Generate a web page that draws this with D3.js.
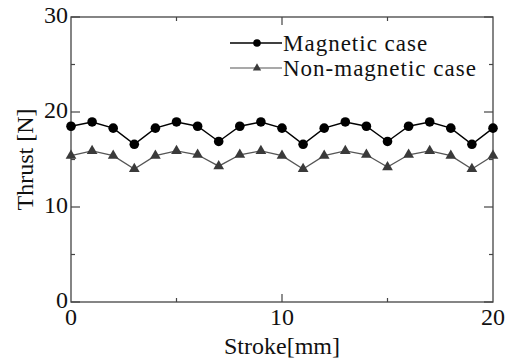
<!DOCTYPE html>
<html>
<head>
<meta charset="utf-8">
<script src="https://cdn.jsdelivr.net/npm/d3@7"></script>
<style>
  body { margin: 0; background: #fff; }
</style>
</head>
<body>
<svg class="chart"></svg>
<script>
var stroke = [0, 1, 2, 3, 4, 5, 6, 7, 8, 9, 10, 11, 12, 13, 14, 15, 16, 17, 18, 19, 20];
var magnetic = [18.5, 18.95, 18.3, 16.6, 18.3, 18.95, 18.5, 16.9, 18.5, 18.95, 18.3, 16.6, 18.3, 18.95, 18.5, 16.9, 18.5, 18.95, 18.3, 16.6, 18.3];
var nonMagnetic = [15.4, 15.9, 15.4, 14.0, 15.4, 15.9, 15.5, 14.3, 15.5, 15.9, 15.4, 14.0, 15.4, 15.9, 15.5, 14.2, 15.5, 15.9, 15.4, 14.0, 15.4];
var xTicks = [0, 10, 20];
var xMinor = [5, 15];
var yTicks = [0, 10, 20, 30];
var yMinor = [5, 15, 25];
var seriesNames = ["Magnetic case", "Non-magnetic case"];

var font = "'Liberation Serif', 'Times New Roman', Times, serif";

var margin = {top: 17, right: 18, bottom: 60, left: 71},
    W = 511, H = 362,
    width = W - margin.left - margin.right,
    height = H - margin.top - margin.bottom;

var svg = d3.select(".chart").attr("width", W).attr("height", H);
var chart = svg.append("g")
    .attr("transform", "translate(" + margin.left + "," + margin.top + ")");

var x = d3.scaleLinear().domain([0, 20]).range([0, width]);
var y = d3.scaleLinear().domain([0, 30]).range([height, 0]);

var axisColor = "#444";

// frame
chart.append("rect")
    .attr("width", width).attr("height", height)
    .attr("fill", "none").attr("stroke", axisColor).attr("stroke-width", 1.3);

// ticks, inward on all four sides (major 9px, minor 4px)
function ticksY(g, dir) {
  g.selectAll("line.maj").data(yTicks).enter().append("line").attr("class", "maj")
    .attr("x1", 0).attr("x2", 9 * dir).attr("y1", y).attr("y2", y)
    .attr("stroke", axisColor).attr("stroke-width", 1.2);
  g.selectAll("line.min").data(yMinor).enter().append("line").attr("class", "min")
    .attr("x1", 0).attr("x2", 4 * dir).attr("y1", y).attr("y2", y)
    .attr("stroke", axisColor).attr("stroke-width", 1.2);
}
ticksY(chart.append("g"), 1);
ticksY(chart.append("g").attr("transform", "translate(" + width + ",0)"), -1);

function ticksX(g, dir) {
  g.selectAll("line.maj").data([10]).enter().append("line").attr("class", "maj")
    .attr("x1", x).attr("x2", x).attr("y1", 0).attr("y2", 8 * dir)
    .attr("stroke", axisColor).attr("stroke-width", 1.2);
  g.selectAll("line.min").data(xMinor).enter().append("line").attr("class", "min")
    .attr("x1", x).attr("x2", x).attr("y1", 0).attr("y2", 4 * dir)
    .attr("stroke", axisColor).attr("stroke-width", 1.2);
}
ticksX(chart.append("g").attr("transform", "translate(0," + height + ")"), -1);
ticksX(chart.append("g"), 1);

// tick labels
chart.selectAll(".ylab").data(yTicks).enter().append("text")
    .attr("x", -3).attr("y", function(d) { return y(d) + 6; })
    .attr("text-anchor", "end")
    .attr("font-family", font).attr("font-size", 24).attr("fill", "#111")
    .text(function(d) { return d; });
chart.selectAll(".xlab").data(xTicks).enter().append("text")
    .attr("x", x).attr("y", height + 23)
    .attr("text-anchor", "middle")
    .attr("font-family", font).attr("font-size", 24).attr("fill", "#111")
    .text(function(d) { return d; });

// axis titles
chart.append("text")
    .attr("x", width / 2).attr("y", height + 52)
    .attr("text-anchor", "middle")
    .attr("font-family", font).attr("font-size", 24).attr("fill", "#111")
    .text("Stroke[mm]");
chart.append("text")
    .attr("transform", "translate(" + (33 - margin.left) + "," + (height / 2) + ") rotate(-90)")
    .attr("text-anchor", "middle")
    .attr("font-family", font).attr("font-size", 24).attr("fill", "#111")
    .text("Thrust [N]");

// series
var line = d3.line()
    .x(function(d, i) { return x(stroke[i]); })
    .y(function(d) { return y(d); });

chart.append("path").datum(nonMagnetic)
    .attr("d", line).attr("fill", "none")
    .attr("stroke", "#555").attr("stroke-width", 1.3);
chart.append("path").datum(magnetic)
    .attr("d", line).attr("fill", "none")
    .attr("stroke", "#000").attr("stroke-width", 1.4);

var tri = d3.symbol().type(d3.symbolTriangle).size(50);
chart.selectAll(".tri").data(nonMagnetic).enter().append("path")
    .attr("d", tri)
    .attr("transform", function(d, i) { return "translate(" + x(stroke[i]) + "," + y(d) + ")"; })
    .attr("fill", "#3a3a3a");
chart.selectAll(".dot").data(magnetic).enter().append("circle")
    .attr("cx", function(d, i) { return x(stroke[i]); })
    .attr("cy", function(d) { return y(d); })
    .attr("r", 4.8).attr("fill", "#000");

// legend
var legend = chart.append("g").attr("transform", "translate(" + (230 - margin.left) + "," + (43 - margin.top) + ")");
legend.append("line").attr("x1", 0).attr("x2", 52).attr("y1", 0).attr("y2", 0)
    .attr("stroke", "#000").attr("stroke-width", 1.3);
legend.append("circle").attr("cx", 27).attr("cy", 0).attr("r", 3.8).attr("fill", "#000");
legend.append("line").attr("x1", 0).attr("x2", 52).attr("y1", 25).attr("y2", 25)
    .attr("stroke", "#555").attr("stroke-width", 1.2);
legend.append("path").attr("d", d3.symbol().type(d3.symbolTriangle).size(30))
    .attr("transform", "translate(27,25)").attr("fill", "#3a3a3a");
legend.selectAll("text.leg").data(seriesNames).enter().append("text")
    .attr("x", 53).attr("y", function(d, i) { return i * 25 + 8; })
    .attr("font-family", font).attr("font-size", 23).attr("fill", "#111")
    .attr("letter-spacing", 1)
    .text(function(d) { return d; });
</script>
</body>
</html>
